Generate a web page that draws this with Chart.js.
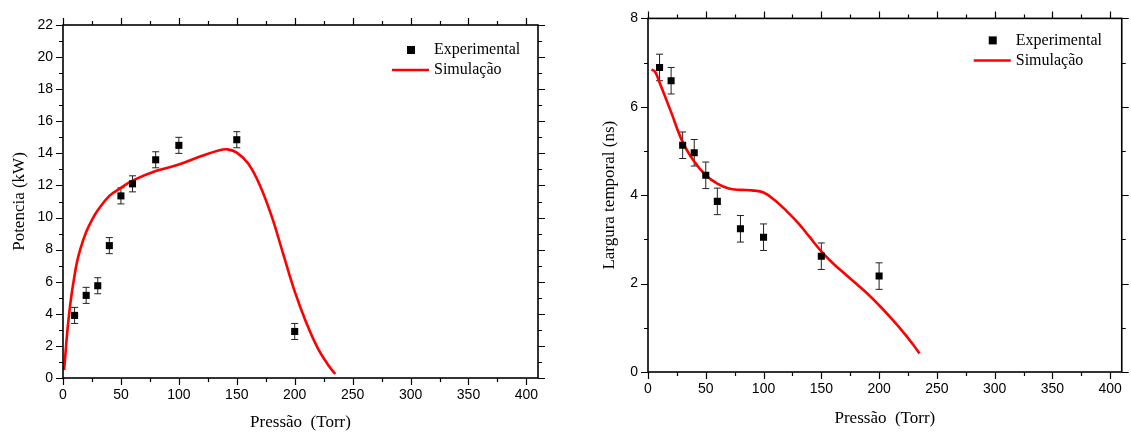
<!DOCTYPE html>
<html>
<head>
<meta charset="utf-8">
<script src="https://cdn.jsdelivr.net/npm/chart.js@4"></script>
<style>
  html, body { margin: 0; padding: 0; background: #fff; }
  #wrap { position: relative; width: 1131px; height: 435px; overflow: hidden; }
  canvas { position: absolute; top: 0; }
</style>
</head>
<body>
<div id="wrap">
  <canvas id="potencia" style="left:0px;width:560px;height:435px"></canvas>
  <canvas id="largura" style="left:570px;width:561px;height:435px"></canvas>
</div>
<script>
// pontos experimentais (pressão em Torr)
const pressao = [10, 20, 30, 40, 50, 60, 80, 100, 150, 200];
const potencia = [3.9, 5.15, 5.75, 8.25, 11.35, 12.1, 13.6, 14.5, 14.85, 2.9];
const potenciaErro = [0.5, 0.5, 0.5, 0.5, 0.5, 0.5, 0.5, 0.5, 0.5, 0.5];
const largura = [6.89, 6.59, 5.13, 4.96, 4.45, 3.86, 3.24, 3.05, 2.62, 2.17];
const larguraErro = [0.3, 0.3, 0.3, 0.3, 0.3, 0.3, 0.3, 0.3, 0.3, 0.3];

// curvas simuladas
const simPotX = [1, 2, 3, 4, 5, 7, 10, 12, 15, 20, 25, 30, 40, 50, 60, 80, 100, 120, 135, 142, 150, 160, 170, 180, 190, 200, 210, 220, 230, 235];
const simPotY = [0.5, 1.4, 2.3, 3.1, 3.8, 5.0, 6.4, 7.2, 8.05, 9.1, 9.85, 10.45, 11.35, 11.85, 12.3, 12.9, 13.3, 13.85, 14.2, 14.25, 14.05, 13.35, 12.0, 10.1, 7.75, 5.4, 3.45, 1.85, 0.7, 0.25];
const simLargX = [3, 6, 10, 20, 30, 40, 50, 60, 70, 80, 90, 100, 110, 120, 130, 140, 150, 160, 170, 180, 190, 200, 210, 220, 230, 235];
const simLargY = [6.84, 6.8, 6.55, 5.88, 5.2, 4.76, 4.45, 4.26, 4.15, 4.12, 4.11, 4.06, 3.88, 3.64, 3.37, 3.05, 2.73, 2.46, 2.23, 2.0, 1.77, 1.51, 1.23, 0.93, 0.6, 0.42];

// marcas dos eixos
const xMaxPressao = 410;
const xPasso = 50, xMenor = 25;
const yPotMax = 22, yPotPasso = 2, yPotMenor = 1;
const yLargMax = 8, yLargPasso = 2, yLargMenor = 1;

const legendLabels = ["Experimental", "Simulação"];

const sans = "'Liberation Sans', Arial, sans-serif";
const serif = "'Liberation Serif', 'Times New Roman', serif";

const toPts = (xs, ys) => xs.map((x, i) => ({ x: x, y: ys[i] }));

// barras de erro, desenhadas antes dos pontos
const errorBars = {
  id: "errorBars",
  beforeDatasetsDraw(chart, args, opts) {
    const { ctx, scales: { y } } = chart;
    const meta = chart.getDatasetMeta(0);
    const ds = chart.data.datasets[0];
    ctx.save();
    ctx.strokeStyle = "#222";
    ctx.lineWidth = 1;
    meta.data.forEach((pt, i) => {
      const v = ds.data[i].y, e = opts.errors[i];
      const top = y.getPixelForValue(v + e), bot = y.getPixelForValue(v - e);
      ctx.beginPath();
      ctx.moveTo(pt.x, top); ctx.lineTo(pt.x, bot);
      ctx.moveTo(pt.x - 3.5, top); ctx.lineTo(pt.x + 3.5, top);
      ctx.moveTo(pt.x - 3.5, bot); ctx.lineTo(pt.x + 3.5, bot);
      ctx.stroke();
    });
    ctx.restore();
  }
};

// moldura com marcas maiores e menores nos quatro lados
const frame = {
  id: "frame",
  afterDraw(chart, args, opts) {
    const { ctx, chartArea: a, scales: { x, y } } = chart;
    ctx.save();
    ctx.strokeStyle = "#000";
    ctx.lineWidth = 1.2;
    ctx.beginPath();
    for (let v = x.min; v <= x.max + 1e-9; v += opts.xMinor) {
      const px = Math.round(x.getPixelForValue(v)) + 0.5;
      const len = v % opts.xMajor === 0 ? 7 : 4;
      ctx.moveTo(px, a.bottom); ctx.lineTo(px, a.bottom + len);
      ctx.moveTo(px, a.top); ctx.lineTo(px, a.top - len);
    }
    for (let v = y.min; v <= y.max + 1e-9; v += opts.yMinor) {
      const py = Math.round(y.getPixelForValue(v)) + 0.5;
      const len = v % opts.yMajor === 0 ? 7 : 4;
      ctx.moveTo(a.left, py); ctx.lineTo(a.left - len, py);
      ctx.moveTo(a.right, py); ctx.lineTo(a.right + len, py);
    }
    ctx.stroke();
    ctx.lineWidth = 1.6;
    ctx.strokeRect(a.left, a.top, a.right - a.left, a.bottom - a.top);
    ctx.restore();
  }
};

// legenda dentro da área do gráfico
const innerLegend = {
  id: "innerLegend",
  afterDraw(chart, args, opts) {
    const { ctx, chartArea: a } = chart;
    const [pts, sim] = chart.data.datasets;
    const tx = a.right - opts.right;
    const y1 = a.top + opts.top, y2 = y1 + 20;
    ctx.save();
    ctx.fillStyle = pts.backgroundColor;
    ctx.fillRect(tx - 27, y1 - 4, 8, 8);
    ctx.strokeStyle = sim.borderColor;
    ctx.lineWidth = 2.5;
    ctx.beginPath();
    ctx.moveTo(tx - 42, y2); ctx.lineTo(tx - 5, y2);
    ctx.stroke();
    ctx.fillStyle = "#000";
    ctx.font = "16px " + serif;
    ctx.textBaseline = "middle";
    ctx.fillText(pts.label, tx, y1);
    ctx.fillText(sim.label, tx, y2);
    ctx.restore();
  }
};

function makeChart(id, cfg) {
  const canvas = document.getElementById(id);
  canvas.width = cfg.width;
  canvas.height = 435;
  return new Chart(canvas, {
    type: "scatter",
    plugins: [errorBars, frame, innerLegend],
    data: {
      datasets: [
        {
          label: legendLabels[0],
          data: toPts(pressao, cfg.values),
          pointStyle: "rect",
          radius: 5,
          hoverRadius: 5,
          backgroundColor: "#000",
          borderColor: "#000",
          borderWidth: 0
        },
        {
          label: legendLabels[1],
          data: toPts(cfg.simX, cfg.simY),
          showLine: true,
          borderColor: "#ff0000",
          borderWidth: 2.6,
          pointRadius: 0,
          tension: 0.4,
          fill: false
        }
      ]
    },
    options: {
      responsive: false,
      animation: false,
      layout: { padding: { top: cfg.padTop, right: cfg.padRight, left: 0, bottom: 0 } },
      scales: {
        x: {
          type: "linear",
          min: 0,
          max: xMaxPressao,
          grid: { display: false, drawTicks: false },
          border: { display: false },
          ticks: {
            stepSize: xPasso,
            includeBounds: false,
            padding: 9,
            maxRotation: 0,
            color: "#000",
            font: { family: sans, size: 14 }
          },
          title: {
            display: true,
            text: "Pressão  (Torr)",
            color: "#000",
            font: { family: serif, size: 17 },
            padding: { top: 0, bottom: cfg.xTitlePad }
          },
          afterFit: (s) => { s.height = cfg.xAxisH; }
        },
        y: {
          type: "linear",
          min: 0,
          max: cfg.yMax,
          grid: { display: false, drawTicks: false },
          border: { display: false },
          ticks: {
            stepSize: cfg.yStep,
            includeBounds: false,
            padding: 10,
            color: "#000",
            font: { family: sans, size: 14 }
          },
          title: {
            display: true,
            text: cfg.yTitle,
            color: "#000",
            font: { family: serif, size: 17 },
            padding: { top: cfg.yTitlePad, bottom: 0 }
          },
          afterFit: (s) => { s.width = cfg.yAxisW; }
        }
      },
      plugins: {
        legend: { display: false },
        tooltip: { enabled: false },
        errorBars: { errors: cfg.errors },
        frame: { xMajor: xPasso, xMinor: xMenor, yMajor: cfg.yStep, yMinor: cfg.yMinor },
        innerLegend: { right: cfg.legRight, top: cfg.legTop }
      }
    }
  });
}

makeChart("potencia", {
  width: 560, values: potencia, errors: potenciaErro, simX: simPotX, simY: simPotY,
  yMax: yPotMax, yStep: yPotPasso, yMinor: yPotMenor, yTitle: "Potencia (kW)",
  padTop: 25, padRight: 22, yAxisW: 63, xAxisH: 57, xTitlePad: 2, yTitlePad: 9,
  legRight: 104, legTop: 25
});

makeChart("largura", {
  width: 561, values: largura, errors: larguraErro, simX: simLargX, simY: simLargY,
  yMax: yLargMax, yStep: yLargPasso, yMinor: yLargMenor, yTitle: "Largura temporal (ns)",
  padTop: 17, padRight: 5, yAxisW: 78, xAxisH: 63, xTitlePad: 6, yTitlePad: 29,
  legRight: 106, legTop: 22
});
</script>
</body>
</html>
